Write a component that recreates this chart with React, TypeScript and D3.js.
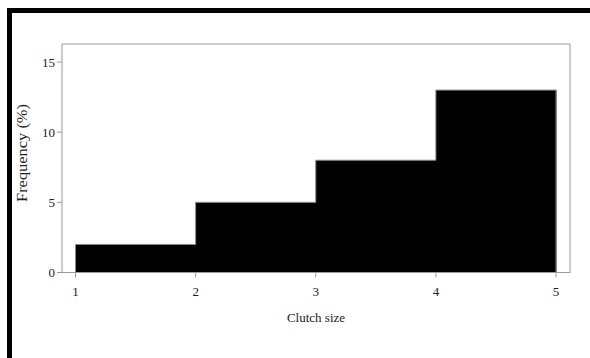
import { useEffect, useRef } from 'react';
import * as d3 from 'd3';

// Histogram of clutch size
const binStarts = [1, 2, 3, 4];
const binEnds = [2, 3, 4, 5];
const frequencies = [2, 5, 8, 13];
const xTicks = [1, 2, 3, 4, 5];
const yTicks = [0, 5, 10, 15];

const WIDTH = 590;
const HEIGHT = 358;

export default function App() {
  const svgRef = useRef<SVGSVGElement>(null);

  useEffect(() => {
    if (!svgRef.current) return;
    document.body.style.margin = '0';

    const svg = d3.select(svgRef.current);
    svg.selectAll('*').remove();

    const frame = { left: 62, right: 570, top: 44, bottom: 272.5 };
    const x = d3.scaleLinear().domain([1, 5]).range([75.5, 556]);
    const y = d3.scaleLinear().domain([0, 15]).range([frame.bottom, 62]);
    const grey = '#9a9a9a';
    const font = '"Liberation Serif", "DejaVu Serif", serif';

    // outer page frame (top + left only)
    svg.append('rect').attr('x', 7).attr('y', 8).attr('width', WIDTH - 7).attr('height', 5).attr('fill', '#000');
    svg.append('rect').attr('x', 7).attr('y', 8).attr('width', 5).attr('height', HEIGHT - 8).attr('fill', '#000');

    // bars (filled, no inner strokes)
    svg.append('g')
      .selectAll('rect')
      .data(frequencies)
      .enter()
      .append('rect')
      .attr('x', (_d, i) => x(binStarts[i]))
      .attr('width', (_d, i) => x(binEnds[i]) - x(binStarts[i]) + 0.5)
      .attr('y', d => y(d))
      .attr('height', d => y(0) - y(d))
      .attr('fill', '#000');

    // grey outline of the histogram as a step line
    const steps: [number, number][] = [[binStarts[0], 0]];
    frequencies.forEach((f, i) => {
      steps.push([binStarts[i], f]);
      steps.push([binEnds[i], f]);
    });
    steps.push([binEnds[binEnds.length - 1], 0]);
    svg.append('path')
      .attr('d', d3.line<[number, number]>().x(d => x(d[0])).y(d => y(d[1]))(steps))
      .attr('fill', 'none')
      .attr('stroke', '#8a8a8a')
      .attr('stroke-width', 1);

    // plot frame
    svg.append('rect')
      .attr('x', frame.left)
      .attr('y', frame.top)
      .attr('width', frame.right - frame.left)
      .attr('height', frame.bottom - frame.top)
      .attr('fill', 'none')
      .attr('stroke', grey)
      .attr('stroke-width', 1);

    // x ticks
    const xg = svg.append('g');
    xTicks.forEach(t => {
      xg.append('line')
        .attr('x1', x(t)).attr('x2', x(t))
        .attr('y1', frame.bottom).attr('y2', frame.bottom + 5)
        .attr('stroke', grey);
      xg.append('text')
        .attr('x', x(t))
        .attr('y', 296)
        .attr('text-anchor', 'middle')
        .style('font-family', font)
        .style('font-size', '13px')
        .style('fill', '#222')
        .text(t);
    });

    // y ticks
    const yg = svg.append('g');
    yTicks.forEach(t => {
      yg.append('line')
        .attr('x1', frame.left - 5).attr('x2', frame.left)
        .attr('y1', y(t)).attr('y2', y(t))
        .attr('stroke', grey);
      yg.append('text')
        .attr('x', frame.left - 7)
        .attr('y', y(t))
        .attr('dy', '0.35em')
        .attr('text-anchor', 'end')
        .style('font-family', font)
        .style('font-size', '13px')
        .style('fill', '#222')
        .text(t);
    });

    // axis titles
    svg.append('text')
      .attr('x', (frame.left + frame.right) / 2)
      .attr('y', 322)
      .attr('text-anchor', 'middle')
      .style('font-family', font)
      .style('font-size', '13px')
      .style('fill', '#222')
      .text('Clutch size');

    svg.append('text')
      .attr('transform', `translate(27,153) rotate(-90)`)
      .attr('text-anchor', 'middle')
      .attr('textLength', 98)
      .attr('lengthAdjust', 'spacingAndGlyphs')
      .style('font-family', font)
      .style('font-size', '14px')
      .style('fill', '#222')
      .text('Frequency (%)');
  }, []);

  return (
    <svg
      ref={svgRef}
      width={WIDTH}
      height={HEIGHT}
      style={{ display: 'block', background: '#fff' }}
    />
  );
}
